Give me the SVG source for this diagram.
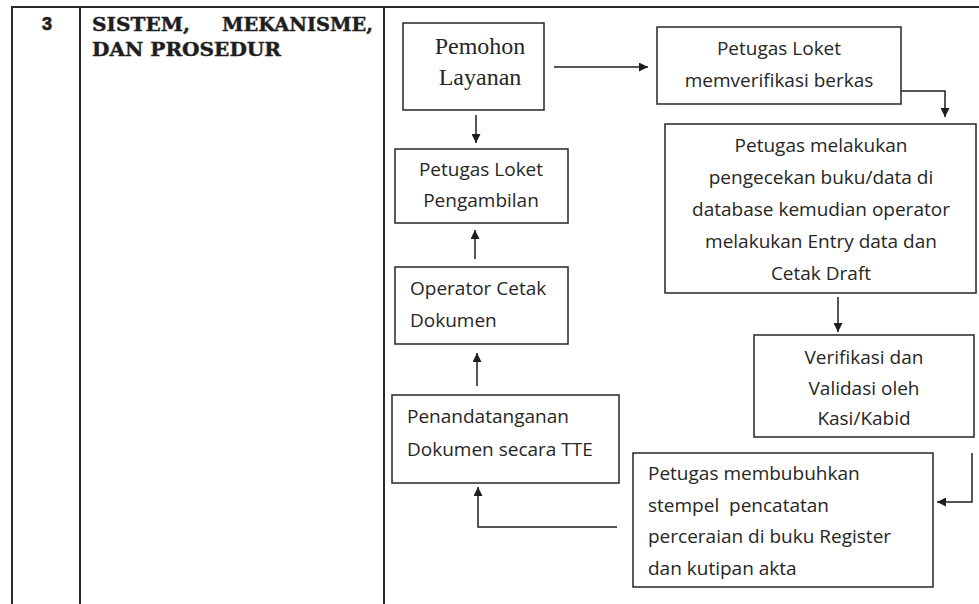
<svg xmlns="http://www.w3.org/2000/svg" width="979" height="604" viewBox="0 0 979 604">
<style>
.tbl{stroke:#2a2a2a;stroke-width:2;fill:none}
.box{fill:#fff;stroke:#262626;stroke-width:1.5}
.t{font-family:"Open Sans","Liberation Sans",sans-serif;font-size:19px;fill:#262626}
.c{text-anchor:middle}
.serif{font-family:"Liberation Serif","Times New Roman",serif;font-size:24px;fill:#262626}
.hd{font-family:"DejaVu Serif","Liberation Serif",serif;font-weight:bold;font-size:18px;fill:#1e1e1e;stroke:#1e1e1e;stroke-width:0.4}
.num{font-family:"Liberation Sans",Arial,sans-serif;font-weight:bold;font-size:18px;fill:#1e1e1e;stroke:#1e1e1e;stroke-width:0.7}
.cn{fill:none;stroke:#1e1e1e;stroke-width:1.5}
</style>
<defs>
<marker id="ah" viewBox="0 0 10 10" refX="10" refY="5" markerWidth="9" markerHeight="9" markerUnits="userSpaceOnUse" orient="auto">
<path d="M0,0 L10,5 L0,10 z" fill="#1e1e1e"/>
</marker>
</defs>
<rect width="979" height="604" fill="#fff"/>
<g id="table">
<line class="tbl" x1="11" y1="7" x2="979" y2="7"/>
<line class="tbl" x1="12" y1="7" x2="12" y2="604"/>
<line class="tbl" x1="80" y1="7" x2="80" y2="604"/>
<line class="tbl" x1="384" y1="7" x2="384" y2="604"/>
<text class="num" x="47" y="30" text-anchor="middle">3</text>
<text class="hd" x="92" y="31" textLength="98" lengthAdjust="spacingAndGlyphs">SISTEM,</text>
<text class="hd" x="222" y="31" textLength="151" lengthAdjust="spacingAndGlyphs">MEKANISME,</text>
<text class="hd" x="92" y="56" textLength="189" lengthAdjust="spacingAndGlyphs">DAN PROSEDUR</text>
</g>
<g id="connectors">
<path class="cn" d="M554,67 H648" marker-end="url(#ah)"/>
<path class="cn" d="M901,91 H945 V117" marker-end="url(#ah)"/>
<path class="cn" d="M838,297 V332" marker-end="url(#ah)"/>
<path class="cn" d="M972,453 V502 H937" marker-end="url(#ah)"/>
<path class="cn" d="M617,527 H478 V487" marker-end="url(#ah)"/>
<path class="cn" d="M477,386 V353" marker-end="url(#ah)"/>
<path class="cn" d="M475,259 V230" marker-end="url(#ah)"/>
<path class="cn" d="M476,115 V143" marker-end="url(#ah)"/>
</g>
<g id="pemohon">
<rect class="box" x="403" y="23" width="141" height="87"/>
<text class="serif c" x="480" y="54">Pemohon</text>
<text class="serif c" x="480" y="85">Layanan</text>
</g>
<g id="loket-verifikasi">
<rect class="box" x="657" y="27" width="244" height="77"/>
<text class="t c" x="779" y="55">Petugas Loket</text>
<text class="t c" x="779" y="87">memverifikasi berkas</text>
</g>
<g id="pengecekan">
<rect class="box" x="665" y="124" width="311" height="169"/>
<text class="t c" x="821" y="152">Petugas melakukan</text>
<text class="t c" x="821" y="184">pengecekan buku/data di</text>
<text class="t c" x="821" y="216">database kemudian operator</text>
<text class="t c" x="821" y="248">melakukan Entry data dan</text>
<text class="t c" x="821" y="280">Cetak Draft</text>
</g>
<g id="verifikasi">
<rect class="box" x="754" y="335" width="220" height="102"/>
<text class="t c" x="864" y="364">Verifikasi dan</text>
<text class="t c" x="864" y="395">Validasi oleh</text>
<text class="t c" x="864" y="425">Kasi/Kabid</text>
</g>
<g id="stempel">
<rect class="box" x="633" y="453" width="300" height="134"/>
<text class="t" x="648" y="480">Petugas membubuhkan</text>
<text class="t" x="648" y="512" xml:space="preserve">stempel  pencatatan</text>
<text class="t" x="648" y="543">perceraian di buku Register</text>
<text class="t" x="648" y="575">dan kutipan akta</text>
</g>
<g id="tte">
<rect class="box" x="392" y="395" width="227" height="88"/>
<text class="t" x="407" y="423">Penandatanganan</text>
<text class="t" x="407" y="456">Dokumen secara TTE</text>
</g>
<g id="operator">
<rect class="box" x="395" y="267" width="173" height="77"/>
<text class="t" x="410" y="295">Operator Cetak</text>
<text class="t" x="410" y="327">Dokumen</text>
</g>
<g id="pengambilan">
<rect class="box" x="395" y="149" width="173" height="74"/>
<text class="t c" x="481" y="176">Petugas Loket</text>
<text class="t c" x="481" y="207">Pengambilan</text>
</g>
</svg>
